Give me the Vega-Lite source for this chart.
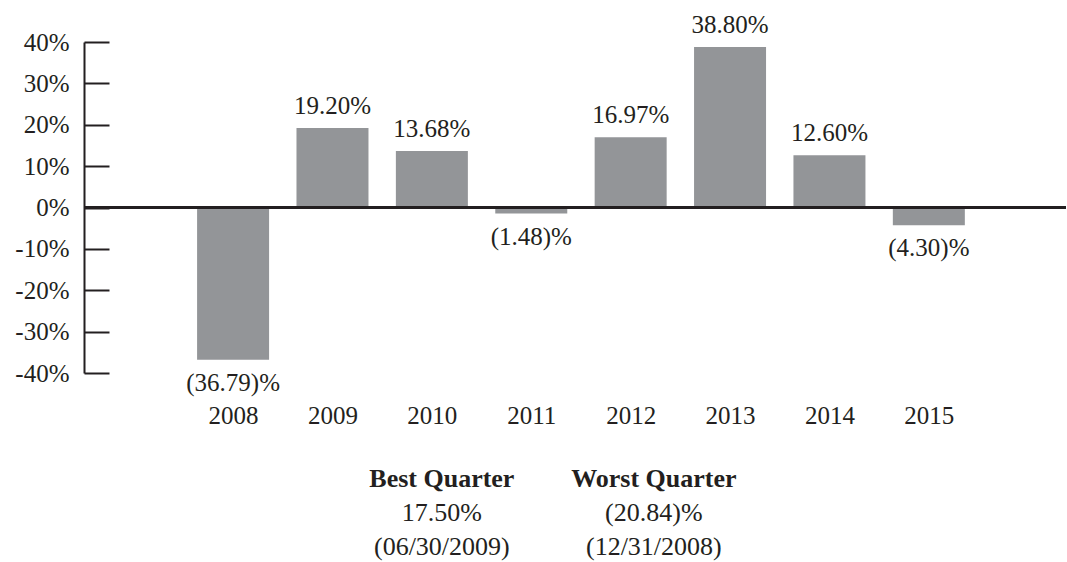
{
  "$schema": "https://vega.github.io/schema/vega-lite/v6.json",
  "padding": {"left": 14, "top": 12, "right": 0, "bottom": 0},
  "background": "white",
  "spacing": 34,
  "config": {"view": {"stroke": null}, "font": "Liberation Serif"},
  "datasets": {
    "returns": [
      {"year": 2008, "value": -36.79, "label": "(36.79)%"},
      {"year": 2009, "value": 19.20, "label": "19.20%"},
      {"year": 2010, "value": 13.68, "label": "13.68%"},
      {"year": 2011, "value": -1.48, "label": "(1.48)%"},
      {"year": 2012, "value": 16.97, "label": "16.97%"},
      {"year": 2013, "value": 38.80, "label": "38.80%"},
      {"year": 2014, "value": 12.60, "label": "12.60%"},
      {"year": 2015, "value": -4.30, "label": "(4.30)%"}
    ],
    "quarters": [
      {"col": "Best Quarter", "row": 1, "text": "Best Quarter"},
      {"col": "Best Quarter", "row": 2, "text": "17.50%"},
      {"col": "Best Quarter", "row": 3, "text": "(06/30/2009)"},
      {"col": "Worst Quarter", "row": 1, "text": "Worst Quarter"},
      {"col": "Worst Quarter", "row": 2, "text": "(20.84)%"},
      {"col": "Worst Quarter", "row": 3, "text": "(12/31/2008)"}
    ]
  },
  "vconcat": [
    {
      "width": 982,
      "height": 331,
      "data": {"name": "returns"},
      "encoding": {
        "x": {
          "field": "year", "type": "quantitative",
          "scale": {"domain": [2006.5, 2016.38], "nice": false, "zero": false, "padding": 0},
          "axis": {
            "values": [2008, 2009, 2010, 2011, 2012, 2013, 2014, 2015],
            "format": "d", "grid": false, "domain": false, "ticks": false,
            "labelFlush": false, "labelFontSize": 25, "labelPadding": 30,
            "labelColor": "#231f20", "labelFont": "Liberation Serif", "title": null
          }
        },
        "y": {
          "field": "value", "type": "quantitative",
          "scale": {"domain": [-40, 40], "nice": false},
          "axis": {
            "values": [-40, -30, -20, -10, 0, 10, 20, 30, 40],
            "labelExpr": "datum.value + '%'",
            "grid": false, "domainColor": "#231f20", "domainWidth": 2,
            "tickColor": "#231f20", "tickWidth": 2, "tickSize": -25,
            "labelPadding": 40, "labelFontSize": 25, "labelColor": "#231f20",
            "labelFont": "Liberation Serif", "title": null
          }
        }
      },
      "layer": [
        {"mark": {"type": "bar", "color": "#939598", "size": 72}},
        {
          "mark": {"type": "rule", "color": "#231f20", "strokeWidth": 2},
          "encoding": {"x": null, "y": {"datum": 0}}
        },
        {
          "transform": [{"filter": "datum.value >= 0"}],
          "mark": {"type": "text", "baseline": "alphabetic", "dy": -14, "fontSize": 25, "color": "#231f20"},
          "encoding": {"text": {"field": "label"}}
        },
        {
          "transform": [{"filter": "datum.value < 0"}],
          "mark": {"type": "text", "baseline": "alphabetic", "dy": 31, "fontSize": 25, "color": "#231f20"},
          "encoding": {"text": {"field": "label"}}
        }
      ]
    },
    {
      "width": 636,
      "height": 102,
      "data": {"name": "quarters"},
      "encoding": {
        "x": {
          "field": "col", "type": "nominal",
          "scale": {"type": "point", "domain": ["Best Quarter", "Worst Quarter"], "padding": 1, "align": 0.844},
          "axis": null
        },
        "y": {"field": "row", "type": "ordinal", "scale": {"domain": [1, 2, 3]}, "axis": null},
        "text": {"field": "text"}
      },
      "layer": [
        {
          "transform": [{"filter": "datum.row == 1"}],
          "mark": {"type": "text", "fontSize": 26, "fontWeight": "bold", "color": "#231f20", "baseline": "middle"}
        },
        {
          "transform": [{"filter": "datum.row != 1"}],
          "mark": {"type": "text", "fontSize": 26, "color": "#231f20", "baseline": "middle"}
        }
      ]
    }
  ]
}
